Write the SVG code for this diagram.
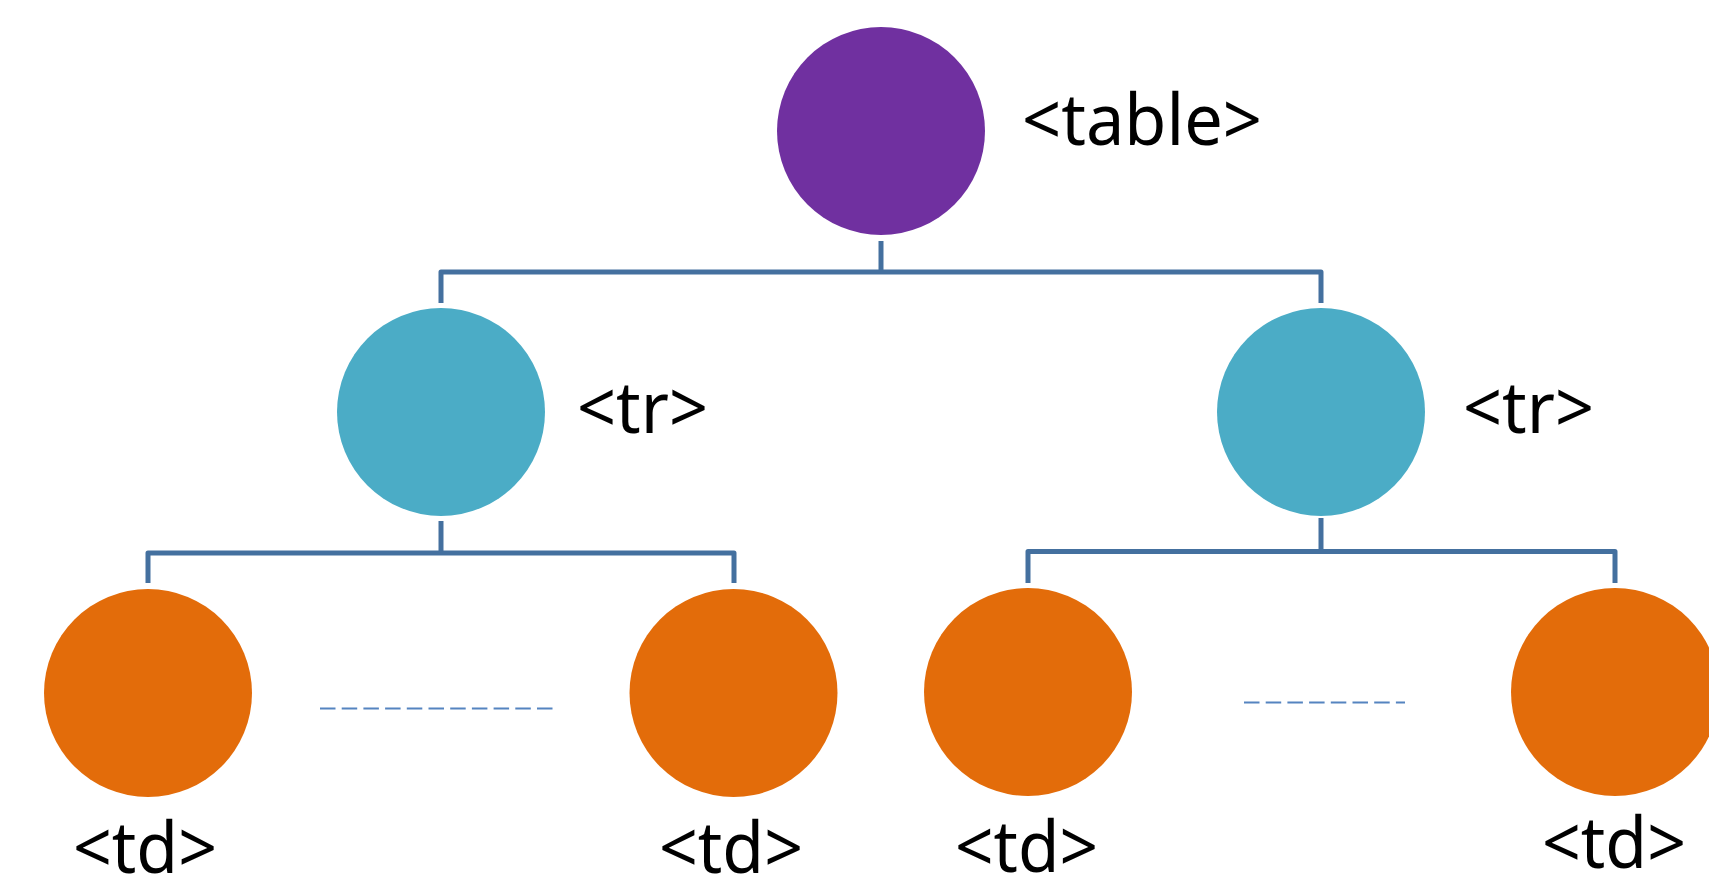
<svg xmlns="http://www.w3.org/2000/svg" width="1709" height="879" viewBox="0 0 1709 879">
<style>
.lbl{font-family:"Noto Sans","Open Sans","DejaVu Sans",sans-serif;font-size:72px;fill:#000}
.conn{fill:none;stroke:#44709f;stroke-width:5;stroke-linejoin:round}
.dash{fill:none;stroke:#5584c0;stroke-width:2;stroke-dasharray:15.5 6.2}
.purple{fill:#7030a0}
.teal{fill:#4bacc6}
.orange{fill:#e36c0a}
</style>
<rect width="1709" height="879" fill="#fff"/>
<g id="connectors">
<path class="conn" d="M881 241V272"/>
<path class="conn" d="M441 303V272H1321V303"/>
<path class="conn" d="M441 521V553"/>
<path class="conn" d="M148 583V553H734V583"/>
<path class="conn" d="M1321 518V551.5"/>
<path class="conn" d="M1028 583V551.5H1615V583"/>
<path class="dash" d="M320 708.5H557"/>
<path class="dash" d="M1244 702.5H1405"/>
</g>
<g id="node-table">
<circle class="purple" cx="881" cy="131" r="104"/>
<text class="lbl" x="1022" y="145" textLength="240" lengthAdjust="spacingAndGlyphs">&lt;table&gt;</text>
</g>
<g id="node-tr1">
<circle class="teal" cx="441" cy="412" r="104"/>
<text class="lbl" x="577" y="433" textLength="131" lengthAdjust="spacingAndGlyphs">&lt;tr&gt;</text>
</g>
<g id="node-tr2">
<circle class="teal" cx="1321" cy="412" r="104"/>
<text class="lbl" x="1463" y="433" textLength="131" lengthAdjust="spacingAndGlyphs">&lt;tr&gt;</text>
</g>
<g id="node-td1">
<circle class="orange" cx="148" cy="693" r="104"/>
<text class="lbl" x="73" y="873" textLength="144" lengthAdjust="spacingAndGlyphs">&lt;td&gt;</text>
</g>
<g id="node-td2">
<circle class="orange" cx="733.5" cy="693" r="104"/>
<text class="lbl" x="659" y="873" textLength="144" lengthAdjust="spacingAndGlyphs">&lt;td&gt;</text>
</g>
<g id="node-td3">
<circle class="orange" cx="1028" cy="692" r="104"/>
<text class="lbl" x="955" y="872" textLength="143" lengthAdjust="spacingAndGlyphs">&lt;td&gt;</text>
</g>
<g id="node-td4">
<circle class="orange" cx="1615" cy="692" r="104"/>
<text class="lbl" x="1542" y="868" textLength="144" lengthAdjust="spacingAndGlyphs">&lt;td&gt;</text>
</g>
</svg>
